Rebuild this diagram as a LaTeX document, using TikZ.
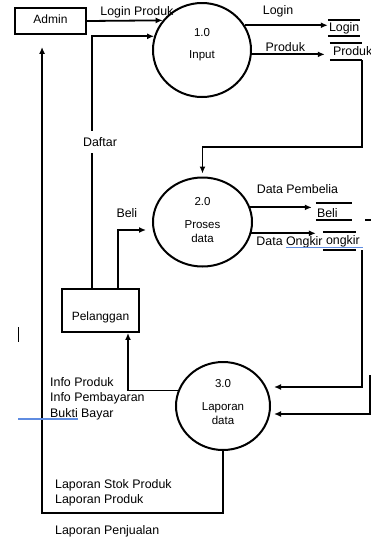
\documentclass[tikz,border=0pt]{standalone}
\usepackage{fontspec}
\setmainfont{Liberation Sans}
\usetikzlibrary{arrows.meta,positioning,shapes.geometric}
\definecolor{spellblue}{RGB}{95,140,225}

\begin{document}
\begin{tikzpicture}[
  x=1pt,y=1pt,
  box/.style={draw,line width=1.9pt,minimum width=71pt,minimum height=26pt,
              inner sep=0pt,font=\fontsize{12}{14}\selectfont},
  proc/.style={draw,ellipse,line width=2pt,inner sep=0pt},
  ptext/.style={align=center,inner sep=0pt,font=\fontsize{11.5}{14}\selectfont},
  store/.style={align=left,inner xsep=1pt,inner ysep=0pt,minimum height=16pt,
                font=\fontsize{12.4}{15}\selectfont},
  lbl/.style={inner sep=2pt,font=\fontsize{12.4}{15.5}\selectfont},
  line/.style={line width=1.8pt},
  arr/.style={-{Latex[length=7pt,width=6pt]},line width=1.8pt},
  spell/.style={draw=spellblue,line width=1.2pt}
]
  \useasboundingbox (0,0) rectangle (371,-539);

  \node[box,text height=5pt,text depth=0pt] (admin) at (50.5,-21) {Admin};
  \node[box,minimum width=77pt,minimum height=43pt,text height=19pt,
        text depth=0pt] (pel) at (100.5,-310.5) {Pelanggan};

  \node[proc,minimum width=98pt,minimum height=94pt] (p1) at (202,-50) {};
  \node[ptext] (p1n) at ([yshift=17pt]p1.center) {1.0};
  \node[ptext] (p1t) at ([yshift=-6pt]p1.center) {Input};
  \node[proc,minimum width=99pt,minimum height=89pt] (p2) at (202.5,-222) {};
  \node[ptext] (p2n) at ([yshift=20pt]p2.center) {2.0};
  \node[ptext] (p2t) at ([yshift=-10pt]p2.center) {Proses\\data};
  \node[proc,minimum width=94pt,minimum height=88pt] (p3) at (223,-406) {};
  \node[ptext] (p3n) at ([yshift=22pt]p3.center) {3.0};
  \node[ptext] (p3t) at ([yshift=-8pt]p3.center) {Laporan\\data};

  \node[store,text width=30pt] (lgn) at (344,-28) {\rlap{Login}};
  \node[store,text width=30pt,minimum height=17pt] (prd) at (346,-51.5)
    {\rlap{\hspace{2pt}Produk}};
  \node[store,text width=34pt,minimum height=17pt,text height=12pt,
        text depth=0pt] (beli) at (334,-211.5) {\rlap{Beli}};
  \node[store,text width=31pt,minimum height=18pt] (ongk) at (339.5,-241)
    {\rlap{\hspace{2pt}ongkir}};
  \foreach \s in {lgn,prd,beli,ongk}
    \draw[line] (\s.north west) -- (\s.north east) (\s.south west) -- (\s.south east);

  \draw[arr] (admin.east) -- (p1.143) node[lbl,above,pos=0.66] {Login Produk};
  \draw[arr] ([xshift=-8.5pt]pel.north) |- (p1.164)
    node[lbl,fill=white,inner ysep=6pt,xshift=8pt,pos=0.29] {Daftar};
  \draw[arr,shorten >=6pt] ([xshift=17.5pt]pel.north) |- ([yshift=-8pt]p2.west)
    node[lbl,above=9pt,pos=0.63] {Beli};
  \draw[arr] (p1.30) -- (p1.30 -| lgn.west) node[lbl,above=5pt,pos=0.4] {Login};
  \draw[arr,shorten >=5pt] (p1.-5) -- (p1.-5 -| prd.west)
    node[lbl,above,pos=0.43] {Produk};
  \draw[arr,shorten >=3pt] (prd.south east) -- ++(0,-87) -| (p2.north);
  \draw[arr,shorten >=4pt] (p2.17) -- (p2.17 -| beli.west)
    node[lbl,above=11pt,pos=0.72] {Data Pembelia};
  \draw[arr,shorten >=7pt] (p2.-13) -- (p2.-13 -| ongk.west)
    node[lbl,anchor=north west,pos=0.03] {Data Ongkir};
  \draw[line] ([xshift=13pt]beli.south east) -- ++(6,0);
  \draw[arr] ([xshift=6pt]ongk.south east) |- ([xshift=3pt,yshift=19pt]p3.east);
  \coordinate (rin) at (370,-375);
  \draw[arr] (rin) |- ([xshift=3pt,yshift=-8pt]p3.east);
  \draw[arr] (p3.161) -| ([xshift=27.5pt]pel.south);
  \draw[arr,shorten >=12pt] (p3.south) -- ++(0,-62) -| ([xshift=28pt]admin.south west);

  \node[lbl,align=left,anchor=north west,inner sep=0pt] (info) at (50,-377)
    {Info Produk\\Info Pembayaran\\Bukti Bayar};
  \node[lbl,align=left,anchor=north west,inner sep=0pt] (lapor) at (55,-479)
    {Laporan Stok Produk\\Laporan Produk\\[15.5pt]Laporan Penjualan};

  \draw[spell] (286,-247.5) -- (363,-247.5);
  \draw[spell] (18,-419) -- (78,-419);
  \draw[line width=1pt] (18,-327) -- (18,-342);
\end{tikzpicture}
\end{document}
